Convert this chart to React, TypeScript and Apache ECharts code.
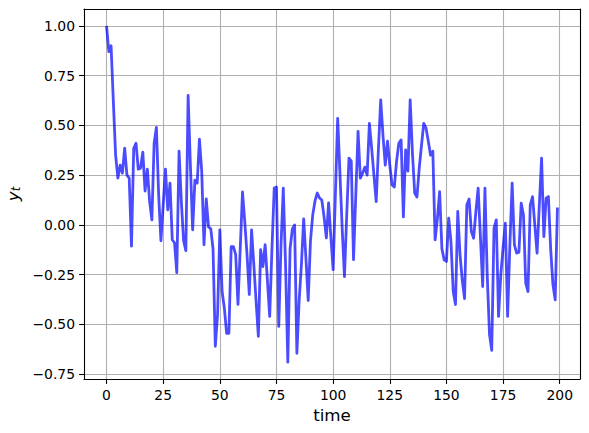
import React, { useEffect, useRef } from "react";
import * as echarts from "echarts";

const yValues: number[] = [
  1.0, 0.87, 0.9, 0.62, 0.35, 0.235, 0.3, 0.26, 0.385, 0.25,
  0.235, -0.107, 0.385, 0.41, 0.28, 0.285, 0.365, 0.17, 0.28, 0.12,
  0.025, 0.41, 0.49, 0.15, -0.08, 0.1, 0.28, 0.075, 0.21, -0.075,
  -0.09, -0.24, 0.37, 0.12, -0.08, -0.13, 0.65, 0.3, -0.025, 0.225,
  0.21, 0.43, 0.27, -0.1, 0.13, -0.01, -0.02, -0.12, -0.61, -0.45,
  -0.025, -0.335, -0.42, -0.545, -0.545, -0.11, -0.11, -0.15, -0.4, -0.12,
  0.165, 0.015, -0.15, -0.35, -0.025, -0.2, -0.385, -0.56, -0.125, -0.21,
  -0.1, -0.28, -0.46, -0.12, 0.185, 0.19, -0.51, -0.1, 0.185, -0.2,
  -0.69, -0.12, -0.02, 0.0, -0.645, -0.38, -0.2, 0.03, -0.17, -0.38,
  -0.08, 0.05, 0.12, 0.16, 0.135, 0.125, 0.04, -0.065, 0.11, -0.06,
  -0.225, 0.155, 0.535, 0.26, -0.02, -0.26, 0.05, 0.335, 0.32, -0.175,
  0.15, 0.47, 0.235, 0.26, 0.29, 0.25, 0.51, 0.385, 0.25, 0.117,
  0.385, 0.628, 0.45, 0.3, 0.42, 0.3, 0.2, 0.19, 0.32, 0.41,
  0.427, 0.04, 0.377, 0.27, 0.628, 0.36, 0.16, 0.14, 0.285, 0.4,
  0.51, 0.486, 0.42, 0.35, 0.37, -0.075, 0.03, 0.167, -0.12, -0.176,
  -0.184, 0.034, -0.084, -0.335, -0.4, 0.067, -0.15, -0.28, -0.37, 0.1,
  0.13, -0.034, -0.067, 0.067, 0.184, -0.06, -0.31, 0.184, -0.25, -0.55,
  -0.63, -0.017, 0.025, -0.46, -0.25, -0.115, 0.008, -0.46, -0.1, 0.21,
  -0.1, -0.142, -0.137, 0.109, 0.05, -0.293, -0.335, 0.1, 0.142, 0.0,
  -0.142, 0.1, 0.335, -0.059, 0.134, 0.142, -0.12, -0.3, -0.377, 0.087,
];
const times: number[] = yValues.map((_, i) => i);
const xTicks: number[] = [0, 25, 50, 75, 100, 125, 150, 175, 200];
const yTicks: number[] = [-0.75, -0.5, -0.25, 0, 0.25, 0.5, 0.75, 1.0];

const FONT = "DejaVu Sans";

export default function App() {
  const ref = useRef<HTMLDivElement>(null);
  useEffect(() => {
    if (!ref.current) return;
    const chart = echarts.init(ref.current, null, { renderer: "svg" });
    const tMin = Math.min(...times);
    const tMax = Math.max(...times);
    const vMin = Math.min(...yValues);
    const vMax = Math.max(...yValues);
    const xPad = (tMax - tMin) * 0.05;
    const yPad = (vMax - vMin) * 0.05;
    const xMin = tMin - xPad;
    const xMax = tMax + xPad;
    const yMin = vMin - yPad;
    const yMax = vMax + yPad;
    const fmtY = (v: number) => v.toFixed(2).replace("-", "\u2212");
    const frameAxis = {
      axisLine: { show: true, onZero: false, lineStyle: { color: "#000", width: 1.1 } },
      axisTick: { show: false },
      axisLabel: { show: false },
      splitLine: { show: false },
    };
    chart.setOption({
      animation: false,
      backgroundColor: "#fff",
      grid: {
        left: 84,
        top: 9,
        width: 496,
        height: 370,
        containLabel: false,
        outerBoundsMode: "none",
      },
      xAxis: [
        {
          type: "value",
          min: xMin,
          max: xMax,
          position: "bottom",
          name: "time",
          nameLocation: "middle",
          nameGap: 27,
          nameTextStyle: { fontFamily: FONT, fontSize: 16.7, color: "#000" },
          axisLine: { show: true, onZero: false, lineStyle: { color: "#000", width: 1.1 } },
          axisTick: {
            show: true,
            inside: false,
            length: 4.9,
            lineStyle: { color: "#000", width: 1.1 },
            customValues: xTicks,
          },
          axisLabel: {
            show: true,
            margin: 9,
            fontFamily: FONT,
            fontSize: 13.9,
            color: "#000",
            customValues: xTicks,
            formatter: (v: number) => String(v),
          },
          splitLine: { show: true, lineStyle: { color: "#b0b0b0", width: 1.1 } },
        },
        { type: "value", min: xMin, max: xMax, position: "top", ...frameAxis },
      ],
      yAxis: [
        {
          type: "value",
          min: yMin,
          max: yMax,
          position: "left",
          name: "{y|y}{t|t}",
          nameLocation: "middle",
          nameRotate: 90,
          nameGap: 58,
          nameTextStyle: {
            fontFamily: FONT,
            color: "#000",
            rich: {
              y: { fontFamily: FONT, fontSize: 16.7, fontStyle: "italic", color: "#000" },
              t: {
                fontFamily: FONT,
                fontSize: 11.7,
                fontStyle: "italic",
                color: "#000",
                verticalAlign: "bottom",
              },
            },
          },
          axisLine: { show: true, onZero: false, lineStyle: { color: "#000", width: 1.1 } },
          axisTick: {
            show: true,
            inside: false,
            length: 4.9,
            lineStyle: { color: "#000", width: 1.1 },
            customValues: yTicks,
          },
          axisLabel: {
            show: true,
            margin: 9,
            fontFamily: FONT,
            fontSize: 13.9,
            color: "#000",
            customValues: yTicks,
            formatter: (v: number) => fmtY(v),
          },
          splitLine: { show: true, lineStyle: { color: "#b0b0b0", width: 1.1 } },
        },
        { type: "value", min: yMin, max: yMax, position: "right", ...frameAxis },
      ],
      series: [
        {
          type: "line",
          xAxisIndex: 0,
          yAxisIndex: 0,
          data: times.map((t, i) => [t, yValues[i]]),
          showSymbol: false,
          symbol: "none",
          lineStyle: { color: "rgba(0,0,255,0.7)", width: 2.8, join: "round" },
          z: 3,
        },
      ],
    });
    return () => chart.dispose();
  }, []);
  return (
    <div
      ref={ref}
      style={{ position: "absolute", left: 0, top: 0, width: 589, height: 433 }}
    />
  );
}
